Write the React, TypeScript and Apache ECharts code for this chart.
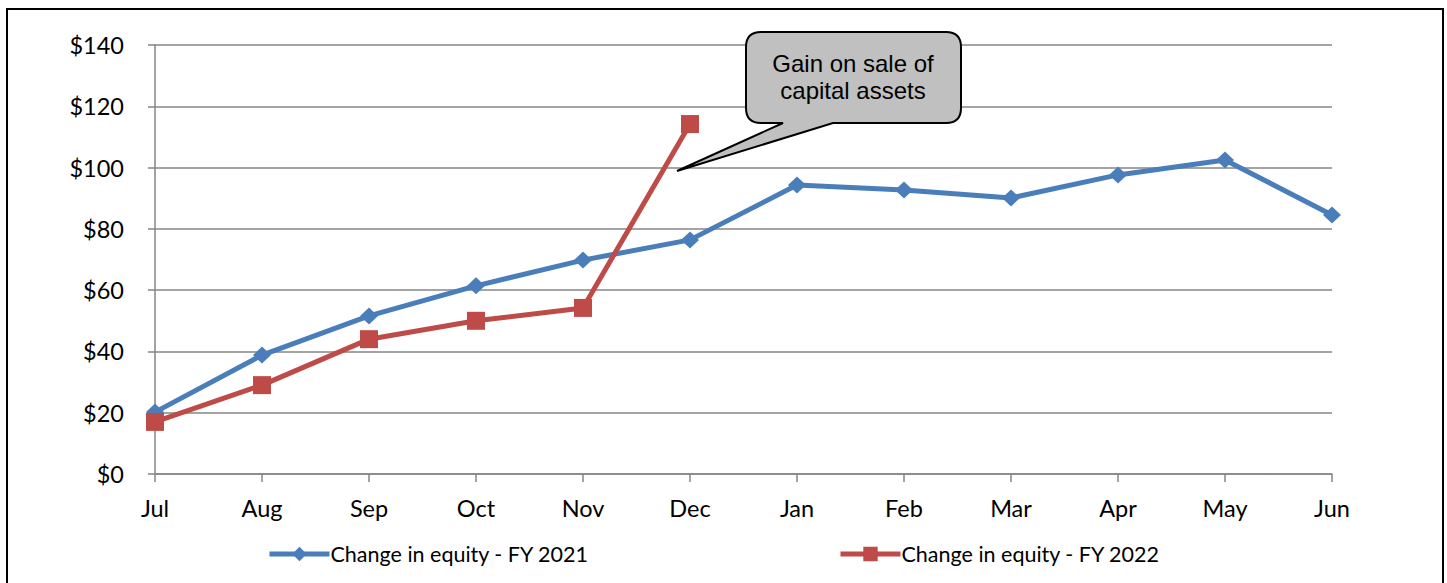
import React, { useEffect, useRef } from 'react';
import * as echarts from 'echarts';

const months = ['Jul', 'Aug', 'Sep', 'Oct', 'Nov', 'Dec', 'Jan', 'Feb', 'Mar', 'Apr', 'May', 'Jun'];
const fy2021 = [20.2, 38.8, 51.6, 61.4, 69.8, 76.4, 94.3, 92.7, 90.1, 97.6, 102.5, 84.5];
const fy2022 = [17, 29, 44, 50, 54.2, 114.2];
const seriesNames = ['Change in equity - FY 2021', 'Change in equity - FY 2022'];
const yMin = 0;
const yMax = 140;
const yStep = 20;
const calloutText = ['Gain on sale of', 'capital assets'];

const calloutPath =
  'M 761 32 L 946 32 Q 961 32 961 47 L 961 108 Q 961 123 946 123 L 833 123 L 677 171 L 783 123 L 761 123 Q 746 123 746 108 L 746 47 Q 746 32 761 32 Z';

let registered = false;

export default function App() {
  const ref = useRef<HTMLDivElement>(null);
  useEffect(() => {
    document.body.style.margin = '0';
    if (!registered) {
      echarts.graphic.registerShape('callout', echarts.graphic.extendPath(calloutPath, {}));
      registered = true;
    }
    const chart = echarts.init(ref.current!, undefined, { renderer: 'svg' });
    const font = 'Lato';
    const gray = '#868686';
    const legendBase = {
      top: 543,
      padding: 0,
      itemWidth: 60,
      itemHeight: 18,
      itemGap: 0,
      lineStyle: { width: 5 },
      textStyle: { fontFamily: font, fontSize: 21.5, color: '#000', padding: [0, 0, 0, -4] },
    };
    chart.setOption({
      animation: false,
      backgroundColor: '#fff',
      grid: { left: 155, right: 115, top: 45, bottom: 109 },
      legend: [
        { ...legendBase, data: [seriesNames[0]], left: 267 },
        { ...legendBase, data: [seriesNames[1]], left: 838 },
      ],
      xAxis: {
        type: 'category',
        data: months,
        boundaryGap: false,
        axisLine: { lineStyle: { color: gray, width: 1.5 } },
        axisTick: { show: true, length: 8, lineStyle: { color: gray, width: 1.5 } },
        axisLabel: { color: '#000', fontFamily: font, fontSize: 23.5, margin: 22 },
        splitLine: { show: false },
      },
      yAxis: {
        type: 'value',
        min: yMin,
        max: yMax,
        interval: yStep,
        axisLine: { show: true, lineStyle: { color: gray, width: 1.5 } },
        axisTick: { show: true, length: 7, lineStyle: { color: gray, width: 1.5 } },
        axisLabel: { color: '#000', fontFamily: font, fontSize: 23.5, margin: 31, formatter: (v: number) => '$' + v },
        splitLine: { show: true, lineStyle: { color: gray, width: 1.5 } },
      },
      series: [
        {
          name: seriesNames[0],
          type: 'line',
          data: fy2021,
          symbol: 'diamond',
          symbolSize: [18, 17],
          lineStyle: { color: '#4A7EBB', width: 5 },
          itemStyle: { color: '#4A7EBB' },
          z: 2,
        },
        {
          name: seriesNames[1],
          type: 'line',
          data: fy2022,
          symbol: 'rect',
          symbolSize: 18,
          lineStyle: { color: '#BE4B48', width: 5 },
          itemStyle: { color: '#BE4B48' },
          z: 3,
        },
      ],
      graphic: [
        {
          type: 'rect',
          shape: { x: 7, y: 9, width: 1436, height: 600 },
          style: { fill: 'none', stroke: '#000', lineWidth: 2 },
          z: 0,
          silent: true,
        },
        {
          type: 'callout',
          x: 0,
          y: 0,
          style: { fill: '#c0c0c0', stroke: '#000', lineWidth: 2 },
          z: 100,
        },
        {
          type: 'text',
          x: 853,
          y: 77,
          style: {
            text: calloutText.join('\n'),
            font: '24px "Liberation Sans"',
            fill: '#000',
            align: 'center',
            verticalAlign: 'middle',
            lineHeight: 27,
          },
          z: 101,
        },
      ],
    });
    return () => chart.dispose();
  }, []);
  return <div ref={ref} style={{ width: 1447, height: 583 }} />;
}
